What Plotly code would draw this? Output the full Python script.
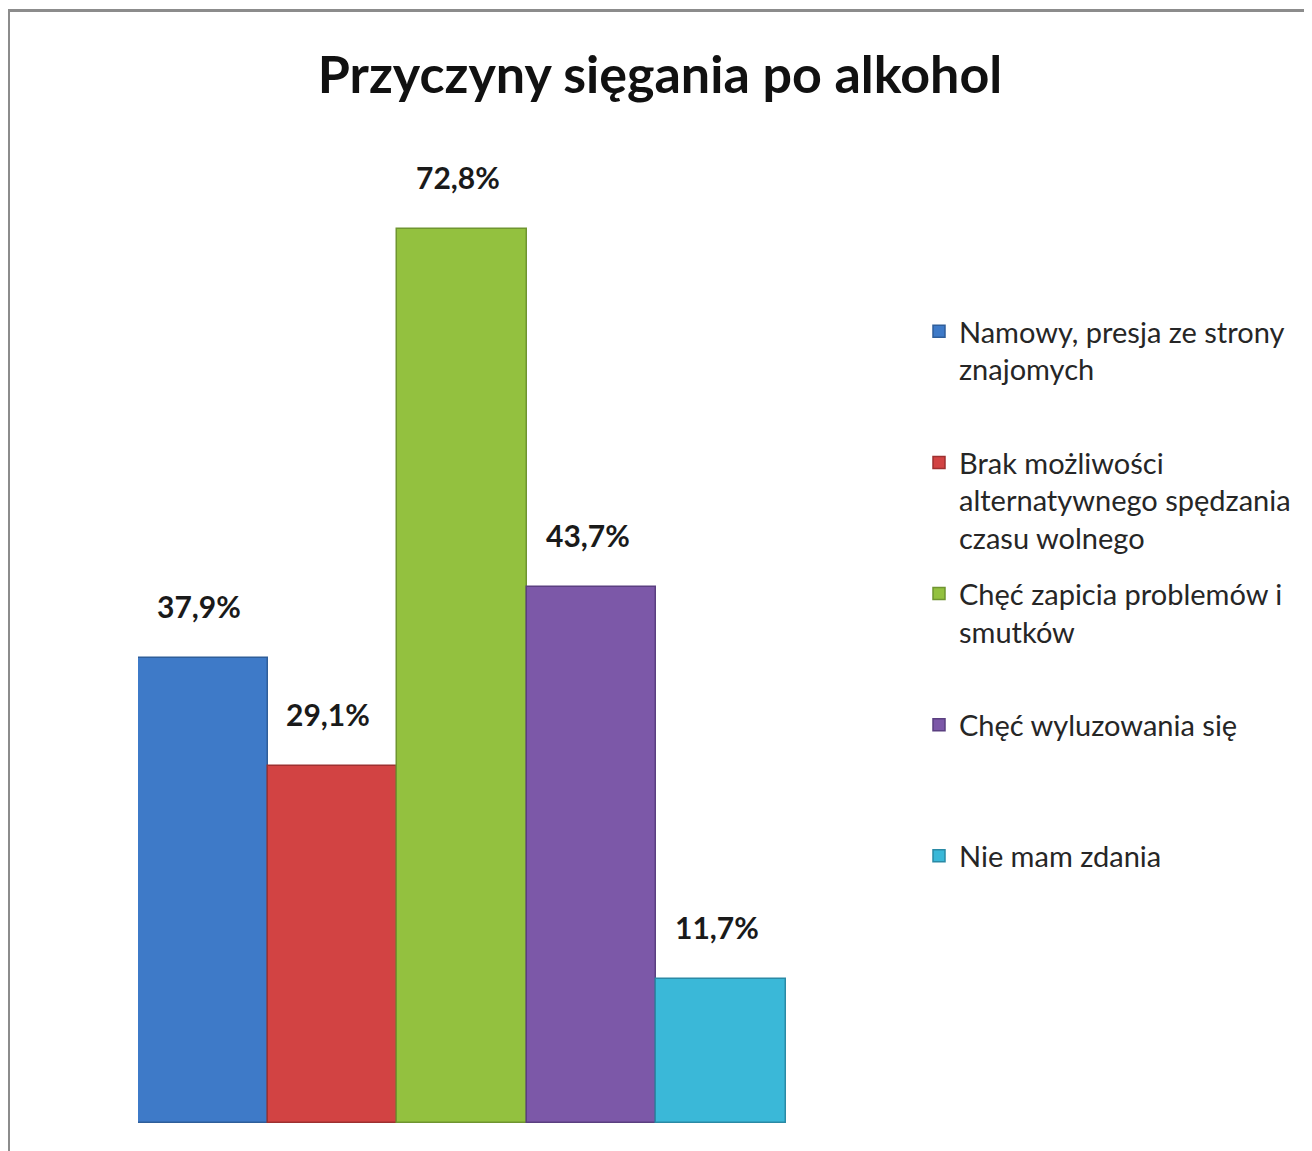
import plotly.graph_objects as go

title = "Przyczyny sięgania po alkohol"
series = [
    "Namowy, presja ze strony<br>znajomych",
    "Brak możliwości<br>alternatywnego spędzania<br>czasu wolnego",
    "Chęć zapicia problemów i<br>smutków",
    "Chęć wyluzowania się",
    "Nie mam zdania",
]
values = [37.9, 29.1, 72.8, 43.7, 11.7]
labels = ["37,9%", "29,1%", "72,8%", "43,7%", "11,7%"]
colors = ["#3E7AC8", "#D24343", "#93C13F", "#7C58A8", "#3AB8D8"]
edges = ["#2F5E9A", "#9E3030", "#6F9530", "#5A3F80", "#2A8AA5"]

W, H = 1312, 1151
L, R = 130, 778          # plot area pixel edges (figure coords)
B = 1115
T = B - 982
pw, ph = R - L, B - T

fig = go.Figure()
for i, (name, v) in enumerate(zip(series, values)):
    lines = name.count("<br>") + 1
    padded = name + "<br> " * (3 - lines)
    fig.add_trace(go.Bar(
        x=[0], y=[v], name=padded,
        marker=dict(color=colors[i], line=dict(color=edges[i], width=1.5)),
        legendgroup=f"g{i}",
        hoverinfo="skip",
    ))

n = len(values)
for i, (v, lab) in enumerate(zip(values, labels)):
    xc = -0.5 + (i + 0.5) / n
    fig.add_annotation(x=xc, y=v, xref="x", yref="y", text=f"<b>{lab}</b>",
                       showarrow=False, yshift=52, xshift=-4,
                       font=dict(family="Lato", size=30, color="#1a1a1a"))

fig.add_shape(type="rect", xref="paper", yref="paper",
              x0=(0.5 - L) / pw, x1=(W + 20 - L) / pw,
              y0=(B - (H + 20)) / ph, y1=(B - 2.5) / ph,
              line=dict(color="#8c8c8c", width=3), fillcolor="rgba(0,0,0,0)", layer="below")

fig.update_layout(
    width=W, height=H,
    margin=dict(l=L, r=W - R, t=T, b=H - B, pad=0),
    paper_bgcolor="white", plot_bgcolor="white",
    barmode="group", bargap=0, bargroupgap=0,
    title=dict(text=f"<b>{title}</b>", x=652 / W, xanchor="center",
               y=1 - 67 / H, yanchor="middle",
               font=dict(family="Lato", size=52, color="#111111")),
    xaxis=dict(range=[-0.5, 0.5], visible=False, fixedrange=True),
    yaxis=dict(range=[0, 80], visible=False, fixedrange=True),
    legend=dict(x=(911 - L) / pw, xanchor="left", y=(B - 298) / ph, yanchor="top",
                font=dict(family="Lato", size=29, color="#262626"),
                valign="top", tracegroupgap=15, itemwidth=30,
                bgcolor="rgba(0,0,0,0)"),
    showlegend=True,
)

fig.write_html("out.html")
